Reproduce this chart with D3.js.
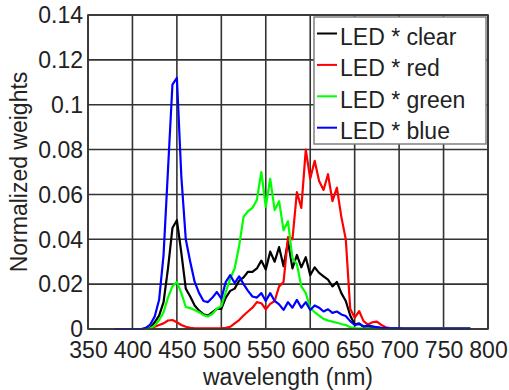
<!DOCTYPE html>
<html>
<head>
<meta charset="utf-8">
<script src="https://cdn.jsdelivr.net/npm/d3@7"></script>
<style>
  html, body { margin: 0; padding: 0; background: #fff; }
  svg { display: block; }
  text { font-family: "Liberation Sans", Arial, sans-serif; fill: #222; }
</style>
</head>
<body>
<div id="chart"></div>
<script>
// sampling grid (nm)
const wavelengths = [
  380, 385, 390, 395, 400, 405, 410, 415, 420, 425,
  430, 435, 440, 445, 450, 455, 460, 465, 470, 475,
  480, 485, 490, 495, 500, 505, 510, 515, 520, 525,
  530, 535, 540, 545, 550, 555, 560, 565, 570, 575,
  580, 585, 590, 595, 600, 605, 610, 615, 620, 625,
  630, 635, 640, 645, 650, 655, 660, 665, 670, 675,
  680, 685, 690, 695, 700, 705, 710, 715, 720, 725,
  730, 735, 740, 745, 750, 755, 760, 765, 770, 775,
  780
];

const ledClear = [
  0, 0, 0, 0, 0, 0, 0, 0, 0.0005, 0.003,
  0.006, 0.012, 0.027, 0.045, 0.0485, 0.034, 0.018, 0.0145, 0.0105, 0.0082,
  0.0065, 0.006, 0.0075, 0.009, 0.009, 0.014, 0.017, 0.018, 0.0215, 0.023,
  0.0255, 0.0255, 0.027, 0.0305, 0.0265, 0.0345, 0.030, 0.0365, 0.028, 0.039,
  0.027, 0.033, 0.0275, 0.032, 0.024, 0.0275, 0.025, 0.0235, 0.022, 0.019,
  0.021, 0.016, 0.0125, 0.006, 0.002, 0.0025, 0.001, 0.0012, 0.0008, 0.0006,
  0.0004, 0.0003, 0.0002, 0.0002, 0.0002, 0.0002, 0.0002, 0.0002, 0.0002, 0.0002,
  0.0002, 0.0002, 0.0002, 0.0002, 0.0002, 0.0002, 0.0002, 0.0002, 0.0002, 0.0002,
  0.0002
];

const ledRed = [
  0, 0, 0, 0, 0, 0, 0, 0, 0, 0.001,
  0.0018, 0.0025, 0.0038, 0.004, 0.003, 0.0018, 0.001, 0.0005, 0.0003, 0.0003,
  0.0003, 0.0003, 0.0003, 0.0003, 0.0003, 0.0005, 0.001, 0.0025, 0.004, 0.006,
  0.0078, 0.0095, 0.012, 0.0115, 0.0088, 0.0112, 0.0125, 0.019, 0.021, 0.041,
  0.040, 0.061, 0.054, 0.080, 0.067, 0.075, 0.066, 0.062, 0.069, 0.057,
  0.063, 0.050, 0.040, 0.009, 0.005, 0.008, 0.0035, 0.002, 0.003, 0.0033,
  0.0018, 0.0008, 0.0004, 0.0003, 0.0003, 0.0003, 0.0003, 0.0003, 0.0003, 0.0003,
  0.0003, 0.0003, 0.0003, 0.0003, 0.0003, 0.0003, 0.0003, 0.0003, 0.0003, 0.0003,
  0.0003
];

const ledGreen = [
  0, 0, 0, 0, 0, 0, 0, 0, 0.0003, 0.0015,
  0.004, 0.0075, 0.014, 0.019, 0.021, 0.016, 0.0098, 0.0093, 0.0085, 0.0075,
  0.0062, 0.0056, 0.0068, 0.009, 0.0102, 0.0165, 0.0225, 0.027, 0.037, 0.050,
  0.0525, 0.054, 0.0575, 0.070, 0.0545, 0.067, 0.053, 0.057, 0.044, 0.048,
  0.0315, 0.029, 0.019, 0.016, 0.0095, 0.0075, 0.006, 0.0045, 0.0038, 0.0033,
  0.0028, 0.0022, 0.0018, 0.0008, 0.0004, 0.0003, 0.0002, 0.0002, 0.0002, 0.0002,
  0.0002, 0.0002, 0.0002, 0.0002, 0.0002, 0.0002, 0.0002, 0.0002, 0.0002, 0.0002,
  0.0002, 0.0002, 0.0002, 0.0002, 0.0002, 0.0002, 0.0002, 0.0002, 0.0002, 0.0002,
  0.0002
];

const ledBlue = [
  0, 0, 0, 0, 0, 0, 0, 0.0005, 0.002, 0.0055,
  0.013, 0.033, 0.071, 0.109, 0.112, 0.068, 0.040, 0.030, 0.021, 0.016,
  0.0125, 0.012, 0.014, 0.0165, 0.0135, 0.021, 0.024, 0.0205, 0.0235, 0.020,
  0.017, 0.0145, 0.014, 0.016, 0.0125, 0.016, 0.0125, 0.011, 0.0085, 0.012,
  0.0095, 0.013, 0.0095, 0.012, 0.0085, 0.0105, 0.0095, 0.0078, 0.0088, 0.0072,
  0.0078, 0.0065, 0.0058, 0.0035, 0.0018, 0.0022, 0.0012, 0.0015, 0.0012, 0.0008,
  0.0005, 0.0004, 0.0003, 0.0003, 0.0003, 0.0002, 0.0002, 0.0002, 0.0002, 0.0002,
  0.0002, 0.0002, 0.0002, 0.0002, 0.0002, 0.0002, 0.0002, 0.0002, 0.0002, 0.0002,
  0.0002
];

const seriesNames = ['LED * clear', 'LED * red', 'LED * green', 'LED * blue'];
const xTicks = [350, 400, 450, 500, 550, 600, 650, 700, 750, 800];
const yTicks = [0, 0.02, 0.04, 0.06, 0.08, 0.1, 0.12, 0.14];
const yTickLabels = ['0', '0.02', '0.04', '0.06', '0.08', '0.1', '0.12', '0.14'];

const colors = ['#000000', '#ff0000', '#00ff00', '#0000ff'];

const width = 509, height = 390;
const plot = {left: 88, right: 488, top: 15, bottom: 329};
const fontSize = 23;

const svg = d3.select('#chart')
  .append('svg')
  .attr('width', width)
  .attr('height', height);

const x = d3.scaleLinear().domain([350, 800]).range([plot.left, plot.right]);
const y = d3.scaleLinear().domain([0, 0.14]).range([plot.bottom, plot.top]);

// grid
const grid = svg.append('g').attr('stroke', '#333').attr('stroke-width', 1.6);
grid.selectAll('line.gx')
  .data(xTicks)
  .enter().append('line')
  .attr('x1', d => x(d)).attr('x2', d => x(d))
  .attr('y1', plot.top).attr('y2', plot.bottom);
grid.selectAll('line.gy')
  .data(yTicks)
  .enter().append('line')
  .attr('y1', d => y(d)).attr('y2', d => y(d))
  .attr('x1', plot.left).attr('x2', plot.right);

// axes (labels only, the grid draws the lines)
const xAxis = svg.append('g')
  .attr('transform', `translate(0, ${plot.bottom})`)
  .call(d3.axisBottom(x).tickValues(xTicks).tickSize(0).tickPadding(13).tickFormat(d3.format('d')));
const yAxis = svg.append('g')
  .attr('transform', `translate(${plot.left}, 0)`)
  .call(d3.axisLeft(y).tickValues(yTicks).tickSize(0).tickPadding(5)
    .tickFormat((d, i) => yTickLabels[i]));
[xAxis, yAxis].forEach(a => {
  a.select('.domain').remove();
  a.selectAll('text')
    .style('font-family', '"Liberation Sans", Arial, sans-serif')
    .style('font-size', fontSize + 'px')
    .attr('fill', '#222');
});
yAxis.selectAll('text').attr('dy', '0.34em');

// series
const line = d3.line()
  .x((d, i) => x(wavelengths[i]))
  .y(d => y(d));

const seriesData = [ledClear, ledRed, ledGreen, ledBlue];
svg.append('g')
  .selectAll('path')
  .data(seriesData)
  .enter().append('path')
  .attr('d', d => line(d))
  .attr('fill', 'none')
  .attr('stroke', (d, i) => colors[i])
  .attr('stroke-width', 2.2)
  .attr('stroke-linejoin', 'round');

// plot box
svg.append('rect')
  .attr('x', plot.left).attr('y', plot.top)
  .attr('width', plot.right - plot.left).attr('height', plot.bottom - plot.top)
  .attr('fill', 'none').attr('stroke', '#333').attr('stroke-width', 1.6);

// legend
const legend = svg.append('g').attr('transform', 'translate(314, 17)');
legend.append('rect')
  .attr('width', 172).attr('height', 127)
  .attr('fill', '#fff').attr('stroke', '#808080').attr('stroke-width', 1.5);
const entries = legend.selectAll('g.entry')
  .data(seriesNames)
  .enter().append('g')
  .attr('transform', (d, i) => `translate(0, ${16.5 + i * 31.4})`);
entries.append('line')
  .attr('x1', 3).attr('x2', 23)
  .attr('stroke', (d, i) => colors[i]).attr('stroke-width', 2);
entries.append('text')
  .attr('x', 26).attr('y', 11.5)
  .style('font-size', fontSize + 'px')
  .text(d => d);

// axis titles
svg.append('text')
  .attr('x', (plot.left + plot.right) / 2).attr('y', 385)
  .attr('text-anchor', 'middle')
  .style('font-size', fontSize + 'px')
  .text('wavelength (nm)');
svg.append('text')
  .attr('transform', `translate(27, ${(plot.top + plot.bottom) / 2}) rotate(-90)`)
  .attr('text-anchor', 'middle')
  .style('font-size', fontSize + 'px')
  .text('Normalized weights');
</script>
</body>
</html>
